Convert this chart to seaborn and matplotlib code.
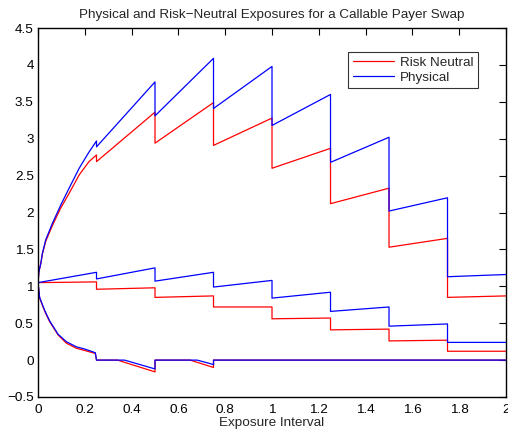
import pandas as pd
import matplotlib
matplotlib.use("Agg")
import matplotlib.pyplot as plt
import seaborn as sns
from matplotlib.ticker import FuncFormatter, MultipleLocator

# Upper envelope (PFE), duplicate x = jump at the call date
rn_upper_x = [0, 0.004, 0.012, 0.019, 0.033, 0.061, 0.097, 0.133, 0.176, 0.218, 0.25, 0.25, 0.5, 0.5, 0.75, 0.75, 1.0, 1.0, 1.25, 1.25, 1.5, 1.5, 1.75, 1.75, 2.0]
rn_upper_y = [1.05, 1.2, 1.31, 1.44, 1.61, 1.82, 2.06, 2.26, 2.51, 2.69, 2.78, 2.69, 3.36, 2.94, 3.49, 2.91, 3.28, 2.60, 2.87, 2.12, 2.33, 1.53, 1.65, 0.85, 0.87]
ph_upper_x = [0, 0.004, 0.012, 0.019, 0.033, 0.061, 0.097, 0.133, 0.176, 0.218, 0.25, 0.25, 0.5, 0.5, 0.75, 0.75, 1.0, 1.0, 1.25, 1.25, 1.5, 1.5, 1.75, 1.75, 2.0]
ph_upper_y = [1.05, 1.2, 1.31, 1.45, 1.63, 1.85, 2.10, 2.33, 2.60, 2.82, 2.97, 2.89, 3.77, 3.31, 4.09, 3.41, 3.98, 3.18, 3.60, 2.68, 3.02, 2.02, 2.20, 1.13, 1.16]

# Expected exposure
mean_x = [0, 0.25, 0.25, 0.5, 0.5, 0.75, 0.75, 1.0, 1.0, 1.25, 1.25, 1.5, 1.5, 1.75, 1.75, 2.0]
rn_mean_y = [1.05, 1.06, 0.96, 0.98, 0.85, 0.87, 0.72, 0.72, 0.56, 0.57, 0.41, 0.42, 0.26, 0.27, 0.12, 0.12]
ph_mean_y = [1.05, 1.19, 1.10, 1.25, 1.07, 1.19, 0.99, 1.08, 0.84, 0.92, 0.66, 0.72, 0.46, 0.49, 0.24, 0.24]

# Lower envelope
rn_lower_x = [0, 0.007, 0.029, 0.05, 0.086, 0.121, 0.164, 0.2, 0.245, 0.25, 0.34, 0.5, 0.5, 0.65, 0.75, 0.75, 2.0]
rn_lower_y = [1.05, 0.84, 0.66, 0.52, 0.34, 0.23, 0.16, 0.13, 0.09, 0.0, 0.0, -0.16, 0.0, 0.0, -0.10, 0.0, 0.0]
ph_lower_x = [0, 0.007, 0.029, 0.05, 0.086, 0.121, 0.164, 0.2, 0.245, 0.25, 0.37, 0.5, 0.5, 0.68, 0.75, 0.75, 2.0]
ph_lower_y = [1.05, 0.85, 0.67, 0.53, 0.35, 0.25, 0.18, 0.15, 0.10, 0.0, 0.0, -0.12, 0.0, 0.0, -0.06, 0.0, 0.0]

curves = [
    ("Risk Neutral", "upper", rn_upper_x, rn_upper_y),
    ("Risk Neutral", "mean", mean_x, rn_mean_y),
    ("Risk Neutral", "lower", rn_lower_x, rn_lower_y),
    ("Physical", "upper", ph_upper_x, ph_upper_y),
    ("Physical", "mean", mean_x, ph_mean_y),
    ("Physical", "lower", ph_lower_x, ph_lower_y),
]
rows = []
for measure, kind, xs, ys in curves:
    for x, y in zip(xs, ys):
        rows.append({"x": x, "y": y, "measure": measure, "curve": measure + kind})
df = pd.DataFrame(rows)

sns.set_style("white")
plt.rcParams["font.family"] = ["Liberation Sans", "DejaVu Sans"]

fig = plt.figure(figsize=(5.08, 4.29), dpi=100)
ax = fig.add_axes([0.0748, 0.0746, 0.9213, 0.86])

sns.lineplot(data=df, x="x", y="y", hue="measure", units="curve", estimator=None,
             sort=False, palette={"Risk Neutral": "#ff0000", "Physical": "#0000ff"},
             linewidth=0.9, ax=ax)

ax.set_xlim(0, 2)
ax.set_ylim(-0.5, 4.5)
ax.xaxis.set_major_locator(MultipleLocator(0.2))
ax.yaxis.set_major_locator(MultipleLocator(0.5))
fmt = FuncFormatter(lambda v, p: f"{v:g}".replace("-", "\u2212"))
ax.xaxis.set_major_formatter(fmt)
ax.yaxis.set_major_formatter(fmt)
ax.tick_params(direction="in", length=5, width=0.8, top=True, right=True,
               labelsize=9.7, colors="black", pad=3)
ax.tick_params(axis="x", pad=5)
for s in ax.spines.values():
    s.set_color("black")
    s.set_linewidth(1.0)

ax.set_title("Physical and Risk\u2212Neutral Exposures for a Callable Payer Swap", fontsize=9.7, pad=7)
ax.set_xlabel("Exposure Interval", fontsize=9.7, labelpad=1)
ax.set_ylabel("")

leg = ax.legend(loc="upper right", bbox_to_anchor=(0.94, 0.935), fontsize=9.7,
                frameon=True, fancybox=False, handlelength=3.1, borderpad=0.35,
                labelspacing=0.15, handletextpad=0.4, borderaxespad=0)
leg.get_frame().set_edgecolor("black")
leg.get_frame().set_linewidth(0.8)

fig.savefig("out.png", dpi=100)
